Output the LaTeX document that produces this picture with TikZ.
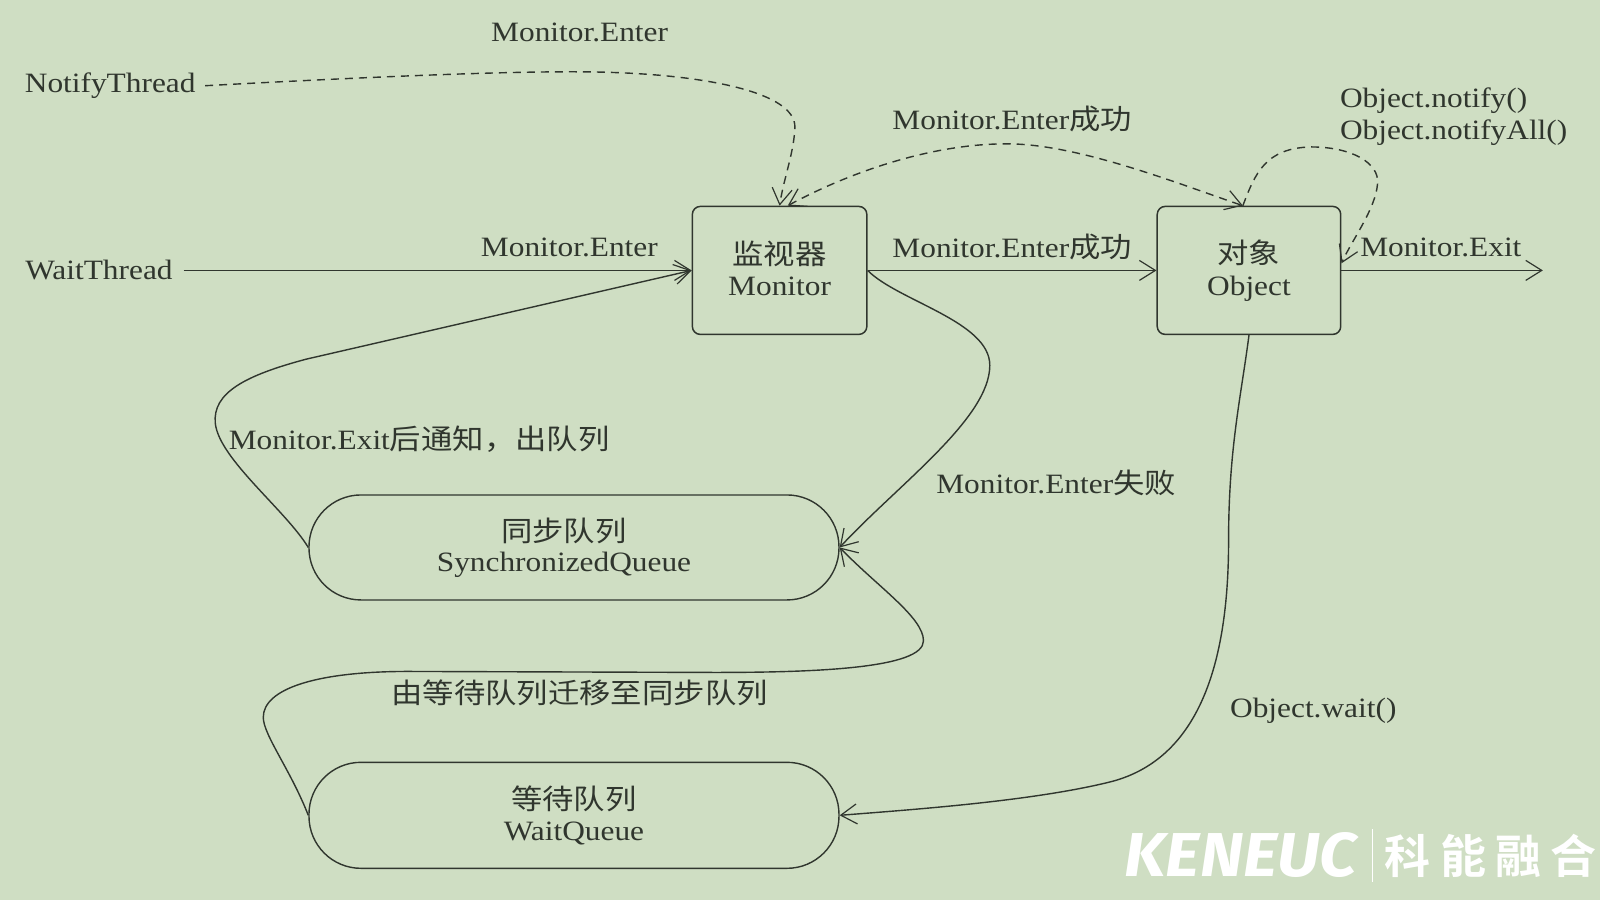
\documentclass[tikz,border=0pt]{standalone}
\usepackage{fontspec}
\usepackage{graphicx}
\setmainfont[FakeStretch=1.12]{Liberation Serif}
\newfontfamily\cjk[FakeStretch=1.12]{Noto Sans CJK SC}
\newfontfamily\cjkbold[BoldFont=*]{Noto Sans CJK SC Bold}
\newfontfamily\logofont{Fira Sans}
\usetikzlibrary{arrows.meta,calc}
\definecolor{bgc}{RGB}{207,222,195}
\definecolor{inkc}{RGB}{48,54,46}
\tikzset{
  x=1.0204pt,y=-1.0204pt,
  barb/.tip={Straight Barb[length=16pt,width=20pt,line width=1.2pt]},
  txt/.style={inner sep=0pt,text=inkc,font=\fontsize{28}{32}\selectfont,align=center},
  boxnode/.style={draw=inkc,line width=1.5pt,rounded corners=8pt,minimum width=175pt,minimum height=128pt,txt},
  queuenode/.style={draw=inkc,line width=1.4pt,rounded corners=52pt,minimum width=530pt,minimum height=105pt,txt},
  link/.style={draw=inkc,line width=1.4pt,-barb},
  dlink/.style={link,dash pattern=on 8pt off 6pt},
  mark white/.style={inner sep=0pt,text=white}
}
\begin{document}
\begin{tikzpicture}
\fill[bgc] (0,0) rectangle (1568,882);
\useasboundingbox (0,0) rectangle (1568,882);
% nodes
\node[boxnode,minimum width=174.5pt,minimum height=128pt] (mon) at (764,265) {\raisebox{3pt}{\cjk 监视器}\\\raisebox{4pt}{Monitor}};
\node[boxnode,minimum width=183.5pt,minimum height=128pt] (obj) at (1224,265) {\raisebox{1pt}{\cjk 对象}\\\raisebox{1pt}{Object}};
\node[queuenode] (sq) at (562.5,536.5) {\hspace*{-20pt}\raisebox{-2pt}{\cjk 同步队列}\\\hspace*{-20pt}SynchronizedQueue};
\node[queuenode,minimum height=106pt] (wq) at (562.5,799) {{\cjk 等待队列}\\\raisebox{1pt}{WaitQueue}};
\node[txt] (nt) at (108,84) {NotifyThread};
\node[txt] (wt) at (97,265) {WaitThread};
\node[txt] (l1) at (568,32) {Monitor.Enter};
\node[txt] (l2) at (558,242) {Monitor.Enter};
\node[txt] (l3) at (992,117) {Monitor.Enter{\cjk 成功}};
\node[txt] (l4) at (992,242) {Monitor.Enter{\cjk 成功}};
\node[txt,anchor=west] (l5) at (1313,99) {Object.notify()};
\node[txt,anchor=west] (l6) at (1313,130) {Object.notifyAll()};
\node[txt] (l7) at (1412,242) {Monitor.Exit};
\node[txt,anchor=west] (l8) at (224,430) {Monitor.Exit{\cjk 后通知，出队列}};
\node[txt] (l9) at (1035,473) {Monitor.Enter{\cjk 失败}};
\node[txt] (l10) at (568,679) {\cjk 由等待队列迁移至同步队列};
\node[txt] (l11) at (1287,697) {Object.wait()};
\coordinate (exitend) at (1512,265);
% solid connectors
\draw[link] (wt.east -| 180,265) -- (mon.west);
\draw[link] (mon.east) -- (obj.west);
\draw[link] (obj.east) -- (exitend);
\draw[link] (sq.west) .. controls (280,500) and (215,450) .. (211,415)
  .. controls (208,385) and (240,368) .. (300,352) -- (mon.west);
\draw[link] (mon.east) .. controls (880,295) and (970,315) .. (970,358)
  .. controls (970,410) and (880,475) .. (sq.east);
\draw[link] (wq.west) .. controls (285,755) and (258,720) .. (258,703)
  .. controls (258,675) and (310,658) .. (400,658)
  -- (700,659) .. controls (800,659) and (905,655) .. (905,628)
  .. controls (905,605) and (860,575) .. (sq.east);
\draw[link] (obj.south) .. controls (1216,390) and (1204,440) .. (1204,530)
  .. controls (1204,640) and (1180,745) .. (1085,767)
  .. controls (1010,785) and (900,793) .. (wq.east);
% dashed connectors
\draw[dlink] (nt.east -| 201,82) .. controls (350,76) and (520,68) .. (600,71)
  .. controls (690,74) and (780,90) .. (779,125)
  .. controls (778,150) and (768,175) .. (mon.north);
\draw[dlink,barb-barb] (mon.north -| 772,202) .. controls (840,165) and (920,140) .. (990,141)
  .. controls (1060,142) and (1160,182) .. (obj.north -| 1218,202);
\draw[dlink] (obj.north -| 1218,202) .. controls (1230,170) and (1240,145) .. (1285,144)
  .. controls (1325,144) and (1352,160) .. (1350,180)
  .. controls (1348,205) and (1325,235) .. (obj.east |- 1315,258);
% watermark
\node[mark white,font=\logofont\bfseries\itshape] (logo) at (1216,838)
  {\resizebox{232pt}{44pt}{KENEUC}};
\node[mark white,fill=white,minimum width=1.6pt,minimum height=53pt] (bar) at (1345,838) {};
\node[mark white,font=\cjkbold\fontsize{46}{50}\selectfont] (m1) at (1379,839) {科};
\node[mark white,font=\cjkbold\fontsize{46}{50}\selectfont] (m2) at (1434,839) {能};
\node[mark white,font=\cjkbold\fontsize{46}{50}\selectfont] (m3) at (1488,839) {融};
\node[mark white,font=\cjkbold\fontsize{46}{50}\selectfont] (m4) at (1542,839) {合};
\end{tikzpicture}
\end{document}
